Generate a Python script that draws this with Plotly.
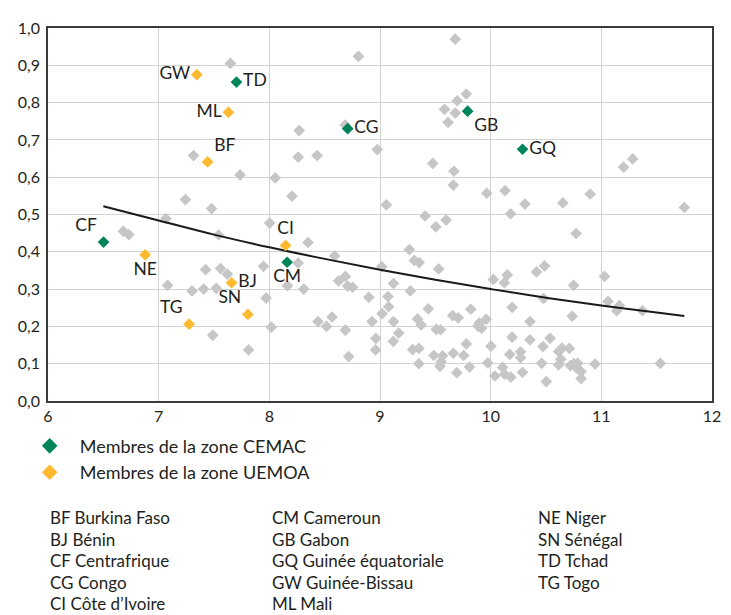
import plotly.graph_objects as go

# ---------------- data ----------------
grey_x = [7.648, 7.315, 7.736, 7.242, 7.478, 9.68, 8.805, 9.78, 9.698, 9.583,
          9.68, 9.615, 8.685, 8.27, 8.975, 8.261, 8.432, 9.477, 9.668, 9.662,
          8.053, 8.205, 9.965, 9.057, 11.283, 11.201, 10.13, 10.899, 10.31, 10.652,
          11.75, 10.18, 7.066, 6.681, 6.731, 7.542, 7.424, 7.559, 7.621, 7.081,
          7.301, 7.407, 7.521, 7.489, 7.812, 8.003, 8.35, 8.261, 7.947, 8.164,
          8.311, 7.971, 8.018, 8.59, 8.626, 8.687, 8.708, 8.752, 8.44, 8.517,
          8.567, 8.687, 8.717, 8.899, 9.016, 8.928, 9.019, 9.072, 9.078, 9.122,
          9.122, 8.963, 8.96, 9.12, 9.169, 9.266, 9.31, 9.354, 9.275, 9.407,
          9.504, 9.598, 9.53, 9.436, 9.339, 9.372, 9.295, 9.351, 9.351, 9.509,
          9.548, 9.486, 9.565, 9.553, 9.542, 9.662, 9.694, 9.756, 9.78, 9.809,
          9.656, 9.706, 9.821, 9.897, 9.959, 9.918, 10.003, 9.974, 10.038, 10.024,
          10.772, 10.414, 10.487, 10.15, 10.123, 11.028, 10.749, 10.478, 11.06, 11.139,
          11.163, 11.372, 10.194, 10.737, 10.355, 10.194, 10.355, 10.537, 10.473, 10.173,
          10.27, 10.27, 10.614, 10.646, 10.711, 10.634, 10.108, 10.126, 10.182, 10.288,
          10.461, 10.502, 10.614, 10.72, 10.752, 10.787, 10.775, 10.817, 10.817, 10.943,
          11.533, 9.885]
grey_y = [0.905, 0.658, 0.606, 0.540, 0.516, 0.970, 0.924, 0.823, 0.805, 0.782,
          0.772, 0.747, 0.740, 0.725, 0.674, 0.654, 0.658, 0.637, 0.616, 0.579,
          0.598, 0.549, 0.557, 0.526, 0.649, 0.627, 0.564, 0.555, 0.528, 0.531,
          0.519, 0.502, 0.489, 0.455, 0.446, 0.445, 0.352, 0.355, 0.340, 0.310,
          0.295, 0.300, 0.302, 0.176, 0.137, 0.477, 0.425, 0.370, 0.361, 0.309,
          0.300, 0.276, 0.198, 0.389, 0.322, 0.334, 0.308, 0.305, 0.213, 0.200,
          0.225, 0.190, 0.119, 0.278, 0.360, 0.213, 0.234, 0.280, 0.253, 0.315,
          0.213, 0.168, 0.137, 0.160, 0.182, 0.406, 0.377, 0.371, 0.295, 0.496,
          0.467, 0.485, 0.354, 0.247, 0.220, 0.204, 0.138, 0.141, 0.100, 0.192,
          0.191, 0.122, 0.121, 0.105, 0.093, 0.128, 0.076, 0.122, 0.153, 0.091,
          0.229, 0.223, 0.246, 0.209, 0.219, 0.195, 0.147, 0.102, 0.067, 0.326,
          0.449, 0.346, 0.362, 0.338, 0.317, 0.334, 0.310, 0.275, 0.267, 0.242,
          0.256, 0.242, 0.251, 0.227, 0.213, 0.171, 0.164, 0.168, 0.146, 0.125,
          0.132, 0.116, 0.133, 0.142, 0.141, 0.112, 0.090, 0.072, 0.064, 0.077,
          0.101, 0.052, 0.097, 0.095, 0.100, 0.101, 0.089, 0.079, 0.060, 0.099,
          0.101, 0.201]

cemac_codes = ["TD", "CG", "GB", "GQ", "CF", "CM"]
cemac_x = [7.703, 8.708, 9.792, 10.288, 6.502, 8.161]
cemac_y = [0.855, 0.730, 0.777, 0.675, 0.426, 0.372]
cemac_pos = ["middle right", "middle right", "bottom right", "middle right", "top left", "bottom center"]

uemoa_codes = ["GW", "ML", "BF", "NE", "BJ", "SN", "TG", "CI"]
uemoa_x = [7.345, 7.63, 7.442, 6.878, 7.659, 7.806, 7.275, 8.147]
uemoa_y = [0.875, 0.774, 0.641, 0.392, 0.317, 0.232, 0.206, 0.417]
uemoa_pos = ["middle left", "middle left", "top right", "bottom center", "middle right", "top left", "top left", "top center"]

trend_x = [6.5, 7.0, 7.5, 8.0, 8.5, 9.0, 9.5, 10.0, 10.5, 11.0, 11.5, 11.75]
trend_y = [0.522, 0.484, 0.446, 0.412, 0.381, 0.352, 0.325, 0.300, 0.277, 0.256, 0.237, 0.228]

legend_names = ["Membres de la zone CEMAC", "Membres de la zone UEMOA"]

country_col1 = ["BF Burkina Faso", "BJ Bénin", "CF Centrafrique", "CG Congo", "CI Côte d’Ivoire"]
country_col2 = ["CM Cameroun", "GB Gabon", "GQ Guinée équatoriale", "GW Guinée-Bissau", "ML Mali"]
country_col3 = ["NE Niger", "SN Sénégal", "TD Tchad", "TG Togo"]

x_ticks = [6, 7, 8, 9, 10, 11, 12]
y_ticks = [0.0, 0.1, 0.2, 0.3, 0.4, 0.5, 0.6, 0.7, 0.8, 0.9, 1.0]

# ---------------- style ----------------
FONT = "Lato, 'Open Sans', sans-serif"
TXT = "#231f20"
GREY = "#c6c6c8"
GREEN = "#00845a"
ORANGE = "#fdb92f"

# page offset (browser body margin) of 8 px is compensated
OFF = 8
W, H = 731 - OFF, 615 - OFF
ML_, MR_, MT_, MB_ = 40 - OFF, 10, 23 - OFF, 214
PLOT_L, PLOT_B = 40, 401          # plot-area edges in page pixels
PW = W - ML_ - MR_
PH = H - MT_ - MB_


def px2paper(px, py):
    return (px - PLOT_L) / PW, (PLOT_B - py) / PH


fig = go.Figure()

fig.add_trace(go.Scatter(x=grey_x, y=grey_y, mode="markers",
                         marker=dict(symbol="diamond", size=9, color=GREY),
                         showlegend=False, hoverinfo="skip"))

fig.add_trace(go.Scatter(x=trend_x, y=trend_y, mode="lines",
                         line=dict(color="#1a1a1a", width=2, shape="spline"),
                         showlegend=False, hoverinfo="skip"))

fig.add_trace(go.Scatter(x=cemac_x, y=cemac_y, mode="markers+text",
                         text=cemac_codes, textposition=cemac_pos,
                         textfont=dict(family=FONT, size=17.5, color=TXT),
                         marker=dict(symbol="diamond", size=9, color=GREEN),
                         name=legend_names[0]))

fig.add_trace(go.Scatter(x=uemoa_x, y=uemoa_y, mode="markers+text",
                         text=uemoa_codes, textposition=uemoa_pos,
                         textfont=dict(family=FONT, size=17.5, color=TXT),
                         marker=dict(symbol="diamond", size=9, color=ORANGE),
                         name=legend_names[1]))

annotations = []
row_y = [519, 541, 563, 585, 606]
for col, xpx in ((country_col1, 40), (country_col2, 268), (country_col3, 540)):
    for i, t in enumerate(col):
        xp, yp = px2paper(xpx, row_y[i])
        annotations.append(dict(x=xp, y=yp, xref="paper", yref="paper", text=t,
                                showarrow=False, xanchor="left", yanchor="middle",
                                font=dict(family=FONT, size=17, color=TXT)))

lx, ly = px2paper(11, 428)

fig.update_layout(
    width=W, height=H,
    margin=dict(l=ML_, r=MR_, t=MT_, b=MB_),
    paper_bgcolor="white", plot_bgcolor="white",
    separators=", ",
    font=dict(family=FONT, size=16, color=TXT),
    showlegend=True,
    legend=dict(x=lx, y=ly, xanchor="left", yanchor="top", orientation="v",
                itemsizing="constant", itemwidth=50,
                font=dict(family=FONT, size=18, color=TXT),
                bgcolor="rgba(0,0,0,0)"),
    annotations=annotations,
    xaxis=dict(range=[6, 12], tickvals=x_ticks, showgrid=True, gridcolor="#d2d2d2", gridwidth=1.3,
               showline=True, linecolor="#3c3c3c", linewidth=1.5, mirror=True,
               zeroline=False, ticks="", tickfont=dict(family=FONT, size=16, color=TXT),
               ticklabelstandoff=0),
    yaxis=dict(range=[0, 1], tickvals=y_ticks, tickformat=".1f", showgrid=True,
               gridcolor="#d2d2d2", gridwidth=1.3,
               showline=True, linecolor="#3c3c3c", linewidth=1.5, mirror=True,
               zeroline=False, ticks="", tickfont=dict(family=FONT, size=16, color=TXT),
               ticklabelstandoff=3),
)

fig.write_html("out.html")
